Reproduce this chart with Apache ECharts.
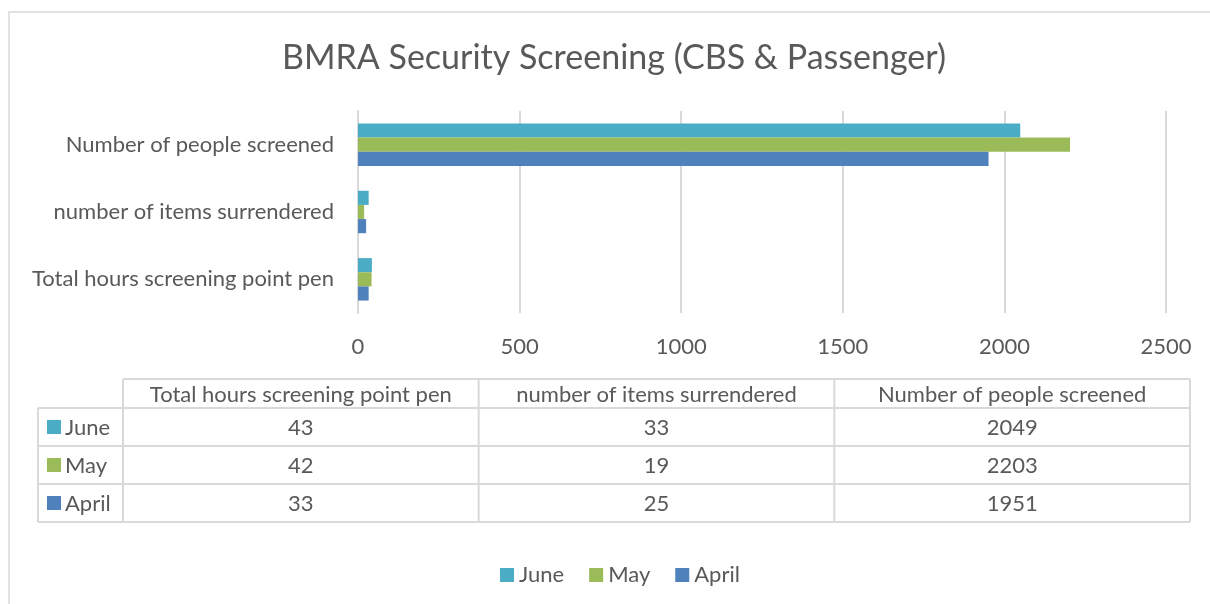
<!DOCTYPE html>
<html>
<head>
<meta charset="utf-8">
<script src="https://cdn.jsdelivr.net/npm/echarts@6/dist/echarts.min.js"></script>
<style>
html,body{margin:0;padding:0;background:#fff;}
#chart{width:1210px;height:604px;}
</style>
</head>
<body>
<div id="chart"></div>
<script>
const categories = ['Total hours screening point pen', 'number of items surrendered', 'Number of people screened'];
const seriesNames = ['June', 'May', 'April'];
const june = [43, 33, 2049];
const may = [42, 19, 2203];
const april = [33, 25, 1951];
const xTicks = [0, 500, 1000, 1500, 2000, 2500];

const colors = { June: '#4BACC6', May: '#9BBB59', April: '#4F81BD' };
const values = { June: june, May: may, April: april };
const FONT = 'Lato';
const FS = 22;
const TXT = '#595959';
const LINE = '#D9D9D9';

const chart = echarts.init(document.getElementById('chart'));

// table layout
const T = { left: 38, keyCol: 123, right: 1190, top: 379, headH: 29, rowH: 38 };
const colW = (T.right - T.keyCol) / categories.length;
const graphics = [];
graphics.push({ type: 'rect', shape: { x: 9, y: 12, width: 1300, height: 700 }, style: { fill: 'none', stroke: LINE, lineWidth: 1.5 }, silent: true });
const bottom = T.top + T.headH + T.rowH * seriesNames.length;
graphics.push({ type: 'line', shape: { x1: T.keyCol, y1: T.top, x2: T.right, y2: T.top }, style: { stroke: LINE, lineWidth: 2 } });
for (let r = 0; r <= seriesNames.length; r++) {
  const y = T.top + T.headH + r * T.rowH;
  graphics.push({ type: 'line', shape: { x1: T.left, y1: y, x2: T.right, y2: y }, style: { stroke: LINE, lineWidth: 2 } });
}
graphics.push({ type: 'line', shape: { x1: T.left, y1: T.top + T.headH, x2: T.left, y2: bottom }, style: { stroke: LINE, lineWidth: 2 } });
for (let c = 0; c <= categories.length; c++) {
  const x = T.keyCol + c * colW;
  graphics.push({ type: 'line', shape: { x1: x, y1: T.top, x2: x, y2: bottom }, style: { stroke: LINE, lineWidth: 2 } });
}
categories.forEach((cat, c) => {
  graphics.push({ type: 'text', x: T.keyCol + (c + 0.5) * colW, y: T.top + T.headH / 2 + 1,
    style: { text: cat, fill: TXT, fontFamily: FONT, fontSize: FS, textAlign: 'center', textVerticalAlign: 'middle' } });
});
seriesNames.forEach((name, r) => {
  const cy = T.top + T.headH + (r + 0.5) * T.rowH;
  graphics.push({ type: 'rect', shape: { x: T.left + 9, y: cy - 7, width: 14, height: 14 }, style: { fill: colors[name] } });
  graphics.push({ type: 'text', x: T.left + 27, y: cy + 1,
    style: { text: name, fill: TXT, fontFamily: FONT, fontSize: FS, textAlign: 'left', textVerticalAlign: 'middle' } });
  values[name].forEach((v, c) => {
    graphics.push({ type: 'text', x: T.keyCol + (c + 0.5) * colW, y: cy + 1,
      style: { text: String(v), fill: TXT, fontFamily: FONT, fontSize: FS, textAlign: 'center', textVerticalAlign: 'middle' } });
  });
});

const option = {
  backgroundColor: '#fff',
  animation: false,
  title: {
    text: 'BMRA Security Screening (CBS & Passenger)',
    left: 277, top: 36,
    textStyle: { color: TXT, fontFamily: FONT, fontSize: 34, fontWeight: 'normal' }
  },
  legend: {
    data: seriesNames,
    bottom: 13, left: 495,
    itemWidth: 14, itemHeight: 14, itemGap: 25,
    icon: 'rect',
    textStyle: { color: TXT, fontFamily: FONT, fontSize: FS }
  },
  grid: { left: 358, right: 44, top: 111, bottom: 291, containLabel: false },
  xAxis: {
    type: 'value', min: 0, max: 2500, interval: 500,
    axisLine: { show: false }, axisTick: { show: false },
    splitLine: { lineStyle: { color: LINE, width: 2 } },
    axisLabel: { color: TXT, fontFamily: FONT, fontSize: FS, margin: 23,
      formatter: v => xTicks.includes(v) ? String(v) : '' }
  },
  yAxis: {
    type: 'category', data: categories,
    axisLine: { show: true, lineStyle: { color: LINE, width: 2 } },
    axisTick: { show: false },
    axisLabel: { color: TXT, fontFamily: FONT, fontSize: FS, margin: 24 }
  },
  series: seriesNames.map(name => ({
    name, type: 'bar', data: values[name],
    itemStyle: { color: colors[name] },
    barGap: '0%', barCategoryGap: '37%'
  })),
  graphic: graphics
};
chart.setOption(option);
</script>
</body>
</html>
